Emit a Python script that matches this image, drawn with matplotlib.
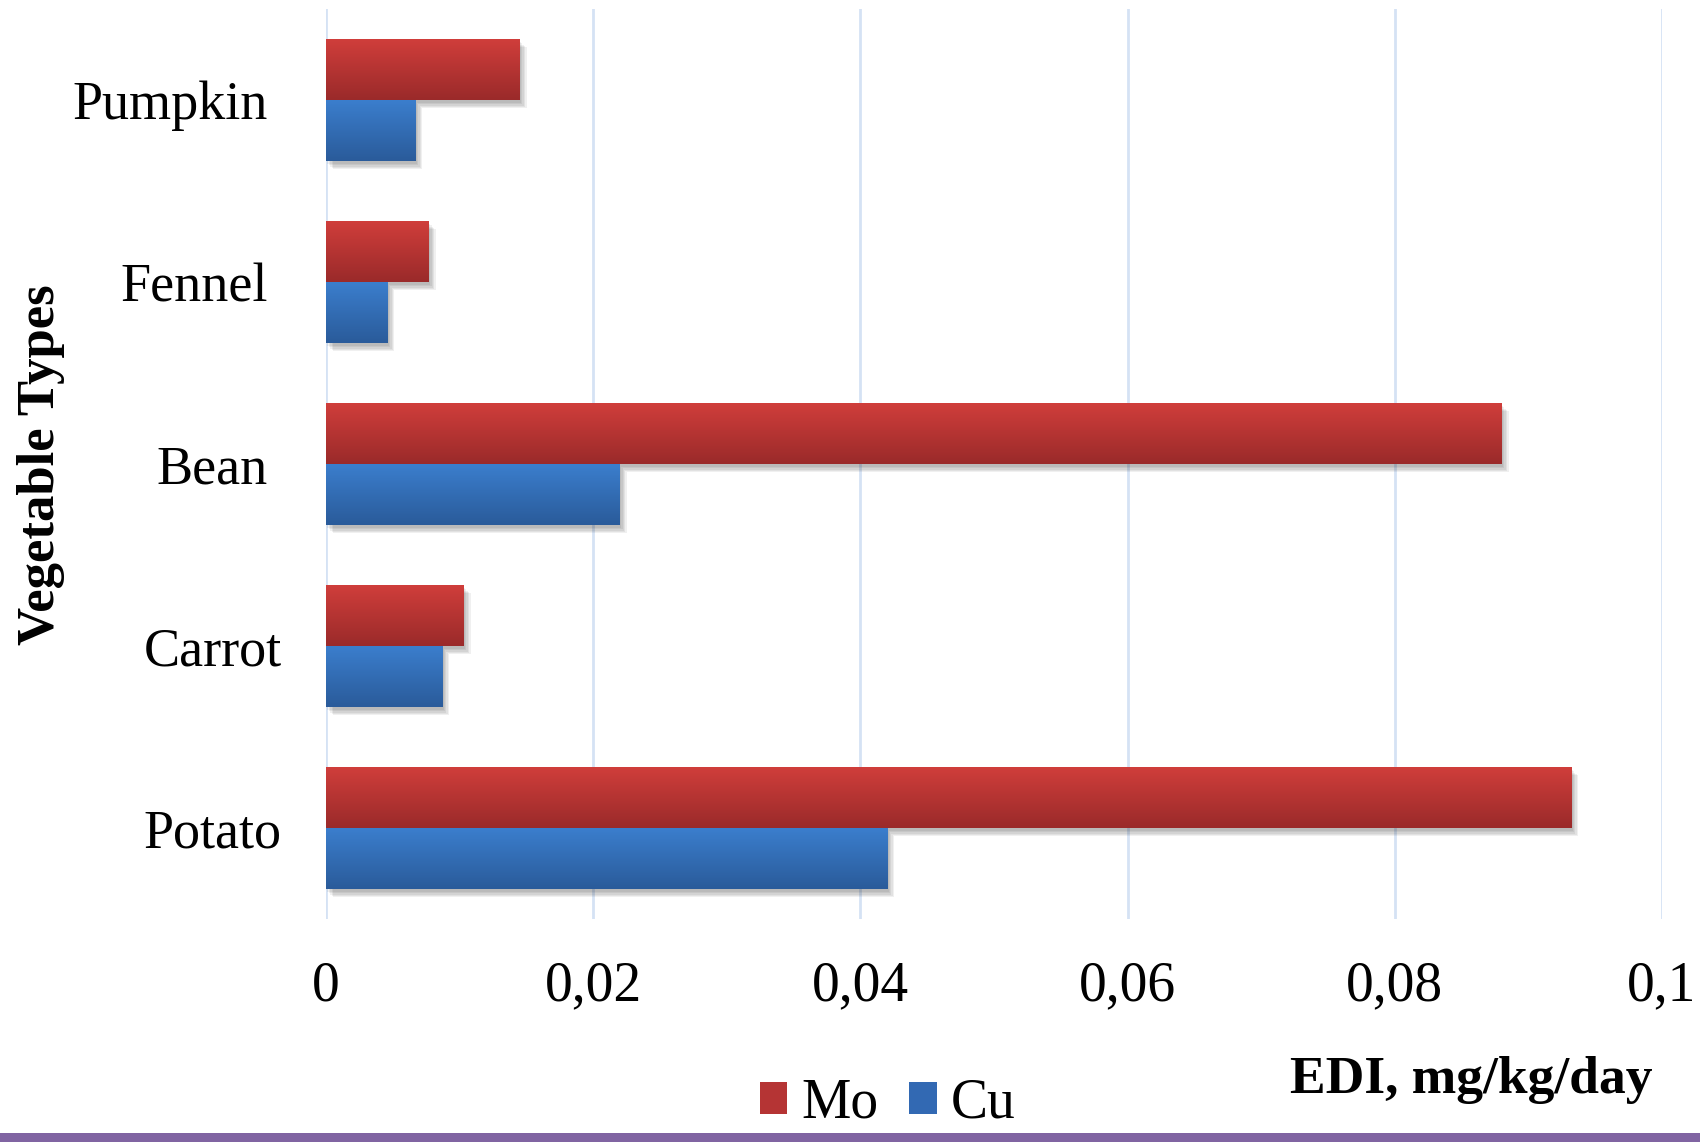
import numpy as np
import matplotlib
matplotlib.use("Agg")
import matplotlib.pyplot as plt
import matplotlib.patheffects as pe
import matplotlib.transforms as mtransforms
from matplotlib.colors import LinearSegmentedColormap
from matplotlib.patches import Rectangle, Patch

# EDI values (mg/kg/day) per vegetable, listed bottom to top
vegetables = ["Potato", "Carrot", "Bean", "Fennel", "Pumpkin"]
mo_values = [0.0932, 0.0103, 0.0880, 0.0077, 0.0145]
cu_values = [0.0420, 0.0087, 0.0220, 0.0046, 0.0067]
x_ticks = [0, 0.02, 0.04, 0.06, 0.08, 0.1]
x_tick_labels = ["0", "0,02", "0,04", "0,06", "0,08", "0,1"]

plt.rcParams["font.family"] = ["Liberation Serif", "DejaVu Serif"]

fig = plt.figure(figsize=(17, 11.42), dpi=100)
ax = fig.add_axes([326 / 1700, 1 - 919 / 1142, 1336 / 1700, 910 / 1142])

red_top, red_bottom = "#d03e3b", "#9a2a2a"
blue_top, blue_bottom = "#3b7ecd", "#2a5b9a"

y = np.arange(len(vegetables))
h = 0.335
# soft drop shadow built from several faint offset copies
shadow = [pe.SimplePatchShadow(offset=(o, -o - 1), shadow_rgbFace="k", alpha=0.06)
          for o in (1, 2, 3, 4, 5)] + [pe.Normal()]
mo_bars = ax.barh(y + h / 2, mo_values, height=h, color=red_top, zorder=3, path_effects=shadow)
cu_bars = ax.barh(y - h / 2, cu_values, height=h, color=blue_top, zorder=3, path_effects=shadow)


def gradient_fill(bar, top, bottom):
    x0, y0 = bar.get_x(), bar.get_y()
    w, hh = bar.get_width(), bar.get_height()
    cmap = LinearSegmentedColormap.from_list("g", [bottom, top])
    grad = np.linspace(0, 1, 256).reshape(-1, 1)
    im = ax.imshow(grad, extent=[x0, x0 + w, y0, y0 + hh], origin="lower",
                   aspect="auto", cmap=cmap, zorder=4, interpolation="bilinear")
    im.set_clip_path(bar)


for b in mo_bars:
    gradient_fill(b, red_top, red_bottom)
for b in cu_bars:
    gradient_fill(b, blue_top, blue_bottom)

ax.set_xlim(0, 0.1)
ax.set_ylim(-0.5, len(vegetables) - 0.5)
ax.set_xticks(x_ticks)
ax.set_xticklabels(x_tick_labels, fontsize=40)
ax.set_yticks(y)
ax.set_yticklabels(vegetables, fontsize=39)
ax.tick_params(axis="x", length=0, pad=30)
ax.tick_params(axis="y", length=0, pad=42)
ax.grid(axis="x", color="#d5e2f4", linewidth=2, zorder=0)
ax.set_axisbelow(True)
for s in ax.spines.values():
    s.set_visible(False)

# the two lower category labels sit a little closer to the axis
for lbl in ax.get_yticklabels()[:2]:
    lbl.set_transform(lbl.get_transform() +
                      mtransforms.ScaledTranslation(14 / 100, 0, fig.dpi_scale_trans))

fig.text(41 / 1700, 1 - 465 / 1142, "Vegetable Types", rotation=90, fontsize=38,
         fontweight="bold", ha="center", va="center")
fig.text(1653 / 1700, 1 - 1080 / 1142, "EDI, mg/kg/day", fontsize=38.5,
         fontweight="bold", ha="right", va="center")

handles = [Patch(facecolor="#b53434", label="Mo"), Patch(facecolor="#3269b3", label="Cu")]
fig.legend(handles=handles, loc="lower center", bbox_to_anchor=(0.522, -0.033), ncol=2,
           frameon=False, fontsize=40, handlelength=0.5, handleheight=0.5,
           handletextpad=0.25, columnspacing=0.55)

fig.patches.append(Rectangle((0, 0), 1, 9 / 1142, transform=fig.transFigure,
                             facecolor="#8064a2", edgecolor="none", zorder=10))

fig.savefig("out.png", dpi=100)
